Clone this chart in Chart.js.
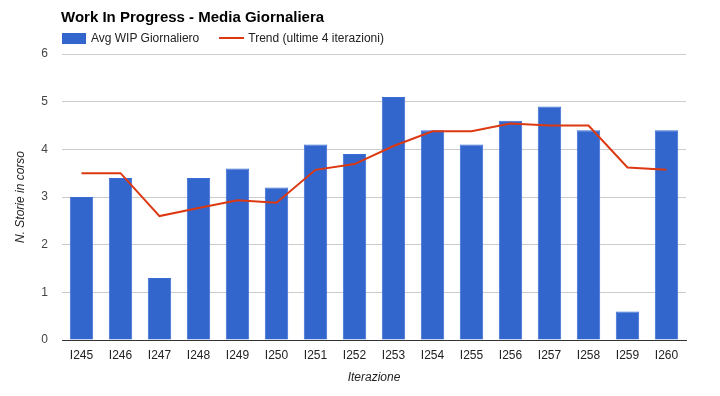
<!DOCTYPE html>
<html>
<head>
<meta charset="utf-8">
<script src="https://cdn.jsdelivr.net/npm/chart.js@4"></script>
<style>
  body { margin: 0; background: #fff; font-family: Arial, "Liberation Sans", sans-serif; }
  #wrap { position: relative; width: 720px; height: 396px; }
  #title { position: absolute; left: 61px; top: 8px; font-size: 15px; font-weight: bold; color: #000; }
  #legend { position: absolute; left: 62px; top: 31px; font-size: 12px; color: #222; display: flex; align-items: center; }
  .item { display: flex; align-items: center; margin-right: 20px; }
  .box { width: 24px; height: 11px; background: #3366cc; margin-right: 5px; }
  .line { width: 25px; height: 2px; background: #dc3912; margin-right: 4px; }
</style>
</head>
<body>
<div id="wrap">
  <canvas id="wipChart" width="720" height="396"></canvas>
  <div id="title">Work In Progress - Media Giornaliera</div>
  <div id="legend">
    <div class="item"><span class="box"></span>Avg WIP Giornaliero</div>
    <div class="item"><span class="line"></span>Trend (ultime 4 iterazioni)</div>
  </div>
</div>
<script>
// Data
const iterations = ['I245', 'I246', 'I247', 'I248', 'I249', 'I250', 'I251', 'I252',
                    'I253', 'I254', 'I255', 'I256', 'I257', 'I258', 'I259', 'I260'];
const avgWip = [3.0, 3.4, 1.3, 3.4, 3.6, 3.2, 4.1, 3.9, 5.1, 4.4, 4.1, 4.6, 4.9, 4.4, 0.6, 4.4];
const trend = [3.5, 3.5, 2.6, 2.77, 2.93, 2.88, 3.57, 3.69, 4.07, 4.38, 4.38, 4.54, 4.5, 4.5, 3.62, 3.57];
const yTicks = [0, 1, 2, 3, 4, 5, 6];

const ctx = document.getElementById('wipChart').getContext('2d');
new Chart(ctx, {
    type: 'bar',
    data: {
        labels: iterations,
        datasets: [{
            type: 'line',
            label: 'Trend (ultime 4 iterazioni)',
            data: trend,
            borderColor: '#dc3912',
            borderWidth: 2,
            pointRadius: 0,
            tension: 0,
            order: 0
        }, {
            label: 'Avg WIP Giornaliero',
            data: avgWip,
            backgroundColor: '#3366cc',
            borderColor: '#3a6cd6',
            borderWidth: 1,
            barPercentage: 0.6,
            categoryPercentage: 1,
            order: 1
        }]
    },
    options: {
        responsive: false,
        animation: false,
        layout: { padding: { top: 54, right: 34, left: 0, bottom: 0 } },
        plugins: { legend: { display: false }, title: { display: false }, tooltip: { enabled: false } },
        scales: {
            x: {
                grid: { display: false, drawTicks: false },
                border: { color: '#333', width: 1 },
                ticks: { color: '#222', font: { family: 'Arial', size: 12 }, padding: 8, maxRotation: 0, autoSkip: false },
                title: { display: true, text: 'Iterazione', color: '#222', font: { family: 'Arial', size: 12, style: 'italic' }, padding: { top: 4, bottom: 11 } },
                afterFit: function(axis) { axis.height = 56; }
            },
            y: {
                min: 0,
                max: 6,
                afterBuildTicks: function(axis) { axis.ticks = yTicks.map(v => ({ value: v })); },
                grid: {
                    color: ctx => ctx.tick && ctx.tick.value === 0 ? '#333' : '#cccccc',
                    drawTicks: false
                },
                border: { display: false },
                ticks: { color: '#444', font: { family: 'Arial', size: 12 }, padding: 14 },
                title: { display: true, text: 'N. Storie in corso', color: '#222', font: { family: 'Arial', size: 12, style: 'italic' }, padding: { top: 13, bottom: 0 } },
                afterFit: function(axis) { axis.width = 62; }
            }
        }
    }
});
</script>
</body>
</html>
